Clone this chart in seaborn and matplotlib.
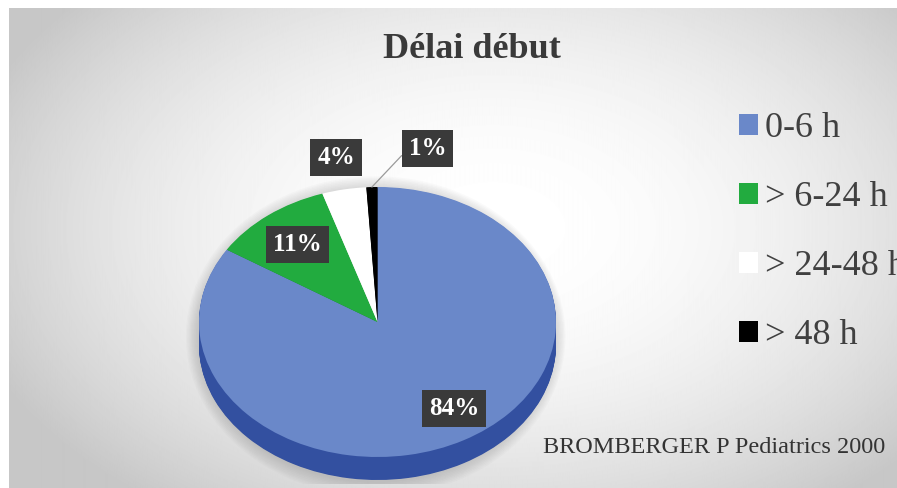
import numpy as np
import matplotlib
matplotlib.use("Agg")
import matplotlib.pyplot as plt
import seaborn as sns
from matplotlib.patches import Patch, Ellipse

# données
categories = ["0-6 h", "> 6-24 h", "> 24-48 h", "> 48 h"]
percentages = [84, 11, 4, 1]
top_colors = ["#6a88c9", "#22ab3f", "#ffffff", "#000000"]
side_colors = ["#3350a0", "#17802d", "#d9d9d9", "#000000"]
pct_labels = ["84%", "11%", "4%", "1%"]
title = "Délai début"
source = "BROMBERGER P Pediatrics 2000"

sns.set_theme(style="white")
plt.rcParams["font.family"] = ["Liberation Serif", "DejaVu Serif"]

W, H = 897, 488
fig = plt.figure(figsize=(W / 100, H / 100), dpi=100)
fig.patch.set_facecolor("white")

# fond dégradé radial (déborde un peu pour couvrir les bords droit et bas)
bg = fig.add_axes([9 / W, -0.02, 1.02 - 9 / W, 1.02 - 8 / H])
yy, xx = np.mgrid[0:490, 0:900]
d = np.sqrt(((xx - 480) / 520) ** 2 + ((yy - 220) / 330) ** 2)
shade = np.clip(1 - 0.2 * d ** 2, 0.78, 1)
bg.imshow(shade, cmap="gray", vmin=0, vmax=1, aspect="auto",
          interpolation="bilinear", extent=(0, 1, 1, 0))
bg.set_xlim(0, 1)
bg.set_ylim(1, 0)
bg.axis("off")

# camembert "3D" : ellipse aplatie
cx, cy, rx, ry = 377.5, 322, 178.5, 135
depth = 23 / ry
ax = fig.add_axes([(cx - 1.1 * rx) / W, (H - (cy + 1.2 * ry)) / H,
                   2.2 * rx / W, 2.3 * ry / H])
ax.patch.set_alpha(0)

# ombre douce
for i in range(10):
    ax.add_patch(Ellipse((-0.01, -depth / 2 - 0.02), 2.0 + 0.014 * i, 2.0 + depth + 0.022 * i,
                         facecolor="#707070", edgecolor="none", alpha=0.03, zorder=0))

for k in np.linspace(depth, 0.005, 30):
    ax.pie(percentages, colors=side_colors, startangle=90, counterclock=False,
           center=(0, -k), wedgeprops=dict(linewidth=0))

wedges, _ = ax.pie(percentages, colors=top_colors, startangle=90, counterclock=False,
                   wedgeprops=dict(linewidth=0))
ax.set_aspect("auto")
ax.set_xlim(-1.1, 1.1)
ax.set_ylim(-1.2, 1.1)
ax.axis("off")

box = dict(boxstyle="square,pad=0.28", facecolor="#3a3a3a", edgecolor="none")
label_r = [0.77, 0.73, 1.24]
label_nudge = [5, 0, 0]
for w, lab, r, a in zip(wedges[:3], pct_labels[:3], label_r, label_nudge):
    mid = np.deg2rad((w.theta1 + w.theta2) / 2 + a)
    ax.text(r * np.cos(mid), r * np.sin(mid), lab, ha="center", va="center",
            fontsize=18, fontweight="bold", color="white", bbox=box)

w = wedges[3]
mid = np.deg2rad((w.theta1 + w.theta2) / 2)
ax.annotate(pct_labels[3], xy=(np.cos(mid), np.sin(mid)), xytext=(40, 28),
            textcoords="offset points", ha="center", va="center",
            fontsize=18, fontweight="bold", color="white", bbox=box,
            arrowprops=dict(arrowstyle="-", color="#9a9a9a", lw=0.9,
                            shrinkA=0, shrinkB=0, relpos=(0, 0.5)))

handles = [Patch(facecolor=c, edgecolor="none") for c in top_colors]
fig.legend(handles, categories, loc="upper left", bbox_to_anchor=(739 / W, 1 - 112 / H),
           frameon=False, fontsize=26, handlelength=0.53, handleheight=0.53,
           handletextpad=0.2, labelspacing=1.0, borderpad=0, borderaxespad=0,
           labelcolor="#404040")

fig.text(472 / W, 1 - 58 / H, title, ha="center", va="baseline", fontsize=26,
         fontweight="bold", color="#3a3a3a")
fig.text(543 / W, 1 - 453 / H, source, ha="left", va="baseline", fontsize=17.5,
         color="#333333")

fig.savefig("out.png", dpi=100)
